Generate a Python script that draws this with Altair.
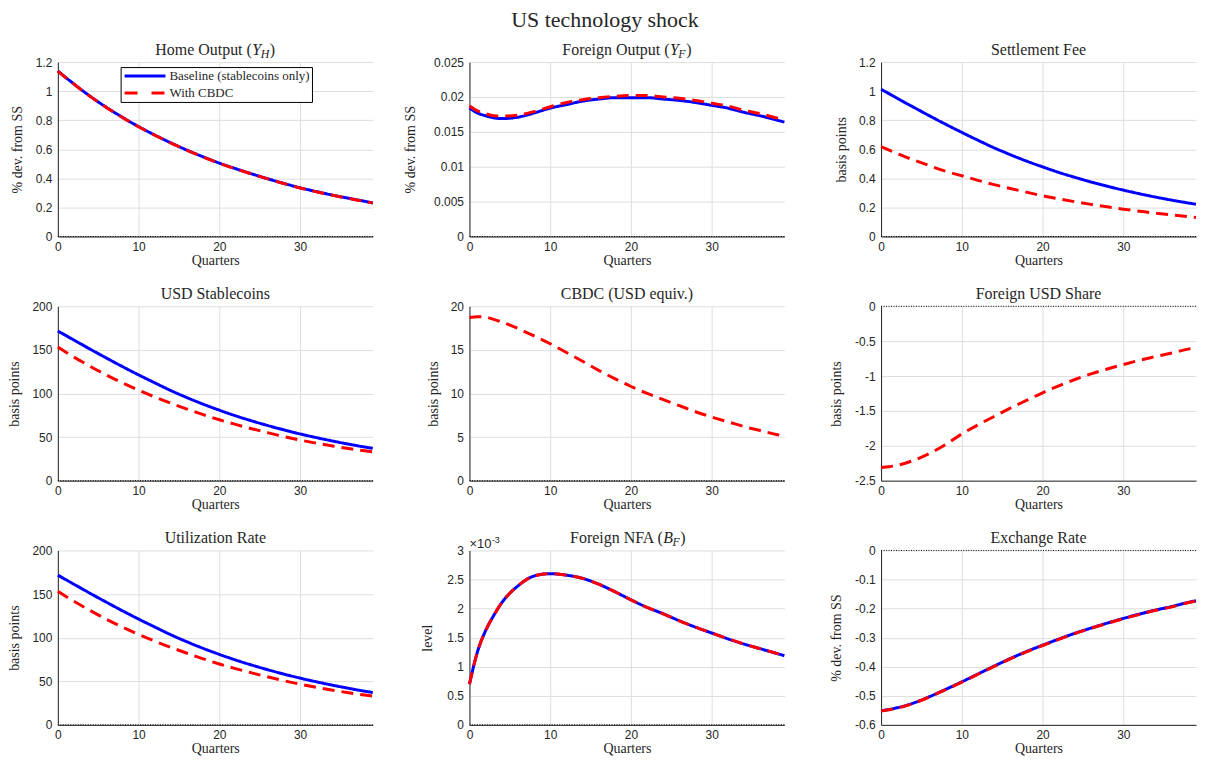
import altair as alt
import pandas as pd

# ---------------- data ----------------
quarters = [0, 1, 2, 3, 4, 6, 8, 10, 12, 14, 16, 18, 20, 22, 24, 26, 28, 30, 32, 34, 36, 38, 39]

home_base = [1.139, 1.093, 1.049, 1.006, 0.965, 0.889, 0.820, 0.756, 0.698, 0.644, 0.594, 0.548,
             0.505, 0.467, 0.431, 0.397, 0.365, 0.335, 0.309, 0.285, 0.263, 0.242, 0.231]
home_cbdc = [1.138, 1.092, 1.048, 1.005, 0.964, 0.888, 0.819, 0.755, 0.697, 0.643, 0.593, 0.547,
             0.504, 0.466, 0.430, 0.396, 0.364, 0.334, 0.308, 0.284, 0.262, 0.241, 0.230]

fy_base = [0.0184, 0.0177, 0.0173, 0.0170, 0.0169, 0.0171, 0.0177, 0.0184, 0.0189, 0.0194, 0.0197, 0.0199,
           0.0199, 0.0199, 0.0197, 0.0195, 0.0192, 0.0188, 0.0184, 0.0178, 0.0173, 0.0167, 0.0164]
fy_cbdc = [0.0187, 0.0180, 0.0176, 0.0173, 0.01725, 0.0174, 0.0179, 0.0186, 0.0192, 0.0196, 0.0199, 0.0201,
           0.0202, 0.0202, 0.0200, 0.0198, 0.0195, 0.0191, 0.0187, 0.0181, 0.0176, 0.0170, 0.0167]

fee_base = [1.013, 0.982, 0.951, 0.920, 0.890, 0.830, 0.772, 0.716, 0.662, 0.610, 0.563, 0.519,
            0.479, 0.441, 0.407, 0.375, 0.346, 0.319, 0.294, 0.271, 0.250, 0.231, 0.222]
fee_cbdc = [0.618, 0.594, 0.571, 0.548, 0.527, 0.487, 0.449, 0.418, 0.386, 0.357, 0.330, 0.305,
            0.280, 0.259, 0.239, 0.221, 0.204, 0.188, 0.174, 0.160, 0.148, 0.137, 0.131]

usd_base = [171.7, 166.4, 161.2, 156.0, 150.8, 140.7, 130.8, 121.3, 112.2, 103.3, 95.2, 87.7,
            80.8, 74.4, 68.6, 63.2, 58.2, 53.6, 49.4, 45.5, 41.9, 38.6, 37.1]
usd_cbdc = [153.2, 147.3, 141.7, 136.3, 131.1, 121.2, 112.1, 103.8, 96.0, 88.8, 82.1, 75.7,
            69.8, 64.5, 59.6, 55.0, 50.6, 46.6, 43.0, 39.8, 36.8, 34.2, 33.0]

cbdc_usd = [18.7, 18.8, 18.75, 18.5, 18.2, 17.45, 16.6, 15.7, 14.7, 13.7, 12.65, 11.7,
            10.8, 10.0, 9.3, 8.6, 7.9, 7.3, 6.75, 6.2, 5.75, 5.3, 5.1]

share_cbdc = [-2.31, -2.30, -2.28, -2.25, -2.21, -2.11, -1.98, -1.83, -1.70, -1.58, -1.46, -1.35,
              -1.24, -1.14, -1.05, -0.97, -0.90, -0.835, -0.775, -0.72, -0.67, -0.615, -0.59]

util_base = [171.7, 166.4, 161.2, 156.0, 150.8, 140.7, 130.8, 121.3, 112.2, 103.3, 95.2, 87.7,
             80.8, 74.4, 68.6, 63.2, 58.2, 53.6, 49.4, 45.5, 41.9, 38.6, 37.1]
util_cbdc = [153.2, 147.3, 141.7, 136.3, 131.1, 121.2, 112.1, 103.8, 96.0, 88.8, 82.1, 75.7,
             69.8, 64.5, 59.6, 55.0, 50.6, 46.6, 43.0, 39.8, 36.8, 34.2, 33.0]

nfa_base = [0.00070, 0.00126, 0.00162, 0.00188, 0.00210, 0.00239, 0.00256, 0.00260, 0.002575, 0.00252, 0.00242, 0.00229,
            0.00215, 0.00202, 0.00191, 0.00179, 0.00168, 0.00158, 0.00148, 0.00139, 0.00131, 0.00123, 0.00119]
nfa_cbdc = [0.00070, 0.00126, 0.00162, 0.00188, 0.00210, 0.00239, 0.00256, 0.00260, 0.002575, 0.00252, 0.00242, 0.00229,
            0.00215, 0.00202, 0.00191, 0.00179, 0.00168, 0.00158, 0.00148, 0.00139, 0.00131, 0.00123, 0.00119]

fx_base = [-0.551, -0.547, -0.541, -0.534, -0.525, -0.503, -0.478, -0.452, -0.425, -0.398, -0.372, -0.348,
           -0.326, -0.305, -0.285, -0.267, -0.250, -0.234, -0.219, -0.205, -0.193, -0.179, -0.173]
fx_cbdc = [-0.552, -0.548, -0.542, -0.535, -0.526, -0.504, -0.479, -0.453, -0.426, -0.399, -0.373, -0.349,
           -0.327, -0.306, -0.286, -0.268, -0.251, -0.235, -0.220, -0.206, -0.194, -0.180, -0.174]

series_names = ["Baseline (stablecoins only)", "With CBDC"]
x_ticks = [0, 10, 20, 30]

# ---------------- styling ----------------
BLUE, RED = "#0000ff", "#ff0000"
INK = "#262626"
SERIF = "Liberation Serif"
SANS = "Liberation Sans"
W, H = 316, 175
MINUS = "\u2212"
TSIZE = 16


def make_df(base, cbdc):
    rows = []
    if base is not None:
        rows += [{"q": q, "v": v, "s": series_names[0]} for q, v in zip(quarters, base)]
    rows += [{"q": q, "v": v, "s": series_names[1]} for q, v in zip(quarters, cbdc)]
    return pd.DataFrame(rows)


def one():
    return pd.DataFrame({"t": [""]})


def text_layer(text, x, y, size=TSIZE, font=SERIF, align="center", style="normal", baseline="alphabetic"):
    return alt.Chart(pd.DataFrame({"t": [text]})).mark_text(
        align=align, baseline=baseline, fontSize=size, font=font, fontStyle=style, color=INK
    ).encode(x=alt.value(x), y=alt.value(y), text="t:N")


def plain_title(t):
    return [text_layer(t, W / 2, -7)]


def sub_title(prefix, sym, sub, pw, symw, subw):
    c = W / 2
    total = pw + symw + subw + 6
    x0 = c - total / 2
    p_end = x0 + pw
    sym_x = p_end + 0.5
    sub_x = sym_x + symw - 0.5
    close_x = sub_x + subw + 0.5
    return [
        text_layer(prefix, p_end, -7, align="right"),
        text_layer(sym, sym_x, -7, align="left", style="italic"),
        text_layer(sub, sub_x, -4, size=12, align="left", style="italic"),
        text_layer(")", close_x, -7, align="left"),
    ]


def panel(title_layers, ylabel, base, cbdc, ydom, yticks, yoff, scale_labels=1, legend=False, exponent=False):
    df = make_df(base, cbdc)
    yscale = alt.Scale(domain=ydom, nice=False, zero=False)
    xscale = alt.Scale(domain=[0, 39], nice=False, zero=False)
    if scale_labels == 1:
        expr = f"replace(format(datum.value, '~g'), '{MINUS}', '-')"
    else:
        expr = f"replace(format(datum.value*{scale_labels}, '~g'), '{MINUS}', '-')"
    common = dict(titleFont=SERIF, titleFontSize=14, titleFontWeight="normal", titleColor=INK,
                  labelFont=SANS, labelFontSize=12, labelColor=INK,
                  domainColor=INK, domainWidth=1, gridColor="#dedede", gridWidth=1,
                  labelFlush=False, labelOverlap=False, grid=True, ticks=False)
    yaxis = alt.Axis(values=yticks, title=ylabel, labelExpr=expr, labelPadding=6,
                     titleX=-yoff, titleY=H / 2, titleBaseline="middle", titleAngle=270,
                     titleAlign="center", **common)
    xaxis = alt.Axis(values=x_ticks, title="Quarters", format="d", labelPadding=5, titlePadding=1, **common)

    zero = alt.Chart(pd.DataFrame({"z": [0.0]})).mark_rule(
        color="black", strokeWidth=1, strokeDash=[1, 1.5]
    ).encode(y=alt.Y("z:Q", scale=yscale, axis=yaxis))

    lines = alt.Chart(df).mark_line(strokeWidth=3, interpolate="monotone", strokeCap="butt").encode(
        x=alt.X("q:Q", scale=xscale, axis=xaxis),
        y=alt.Y("v:Q", scale=yscale, axis=yaxis),
        color=alt.Color("s:N", scale=alt.Scale(domain=series_names, range=[BLUE, RED]), legend=None),
        strokeDash=alt.StrokeDash("s:N", scale=alt.Scale(domain=series_names, range=[[1, 0], [12, 7]]),
                                  legend=None),
        order=alt.Order("q:Q"),
    )

    layers = [lines, zero]

    if legend:
        box = alt.Chart(one()).mark_rect(fill="white", stroke="black", strokeWidth=1).encode(
            x=alt.value(63.5), x2=alt.value(255.5), y=alt.value(5.5), y2=alt.value(40.5))
        l1 = alt.Chart(one()).mark_rule(color=BLUE, strokeWidth=3).encode(
            x=alt.value(67), x2=alt.value(108), y=alt.value(14))
        l2 = alt.Chart(one()).mark_rule(color=RED, strokeWidth=3, strokeDash=[13, 14]).encode(
            x=alt.value(67), x2=alt.value(108), y=alt.value(31))
        t1 = text_layer(series_names[0], 112, 14, size=13, align="left", baseline="middle")
        t2 = text_layer(series_names[1], 112, 31, size=13, align="left", baseline="middle")
        layers += [box, l1, l2, t1, t2]

    if exponent:
        layers += [text_layer("\u00d710", 0, -2, size=13, font=SANS, align="left"),
                   text_layer("-3", 22.5, -7, size=9, font=SANS, align="left")]

    layers += title_layers
    return alt.layer(*layers).properties(width=W, height=H)


p1 = panel(sub_title("Home Output (", "Y", "H", 96.9, 8.9, 8.7), "% dev. from SS", home_base, home_cbdc,
           [0, 1.2], [0, 0.2, 0.4, 0.6, 0.8, 1, 1.2], 40, legend=True)
p2 = panel(sub_title("Foreign Output (", "Y", "F", 107.6, 8.9, 7.3), "% dev. from SS", fy_base, fy_cbdc,
           [0, 0.025], [0, 0.005, 0.01, 0.015, 0.02, 0.025], 59)
p3 = panel(plain_title("Settlement Fee"), "basis points", fee_base, fee_cbdc,
           [0, 1.2], [0, 0.2, 0.4, 0.6, 0.8, 1, 1.2], 40)
p4 = panel(plain_title("USD Stablecoins"), "basis points", usd_base, usd_cbdc,
           [0, 200], [0, 50, 100, 150, 200], 43)
p5 = panel(plain_title("CBDC (USD equiv.)"), "basis points", None, cbdc_usd,
           [0, 20], [0, 5, 10, 15, 20], 36)
p6 = panel(plain_title("Foreign USD Share"), "basis points", None, share_cbdc,
           [-2.5, 0], [-2.5, -2, -1.5, -1, -0.5, 0], 45)
p7 = panel(plain_title("Utilization Rate"), "basis points", util_base, util_cbdc,
           [0, 200], [0, 50, 100, 150, 200], 43)
p8 = panel(sub_title("Foreign NFA (", "B", "F", 95.1, 9.8, 7.3), "level", nfa_base, nfa_cbdc,
           [0, 0.003], [0, 0.0005, 0.001, 0.0015, 0.002, 0.0025, 0.003], 42, scale_labels=1000, exponent=True)
p9 = panel(plain_title("Exchange Rate"), "% dev. from SS", fx_base, fx_cbdc,
           [-0.6, 0], [-0.6, -0.5, -0.4, -0.3, -0.2, -0.1, 0], 45)

chart = alt.concat(
    p1, p2, p3, p4, p5, p6, p7, p8, p9,
    columns=3, spacing=alt.RowColnumber(row=70, column=97), bounds="flush",
).properties(
    title=alt.TitleParams("US technology shock", font=SERIF, fontSize=22, fontWeight="normal",
                          color=INK, anchor="middle", offset=10, frame="bounds"),
    padding=0,
    background="white",
).configure_view(stroke=None)

chart.save("out.html", embed_options={"renderer": "svg", "actions": False})
